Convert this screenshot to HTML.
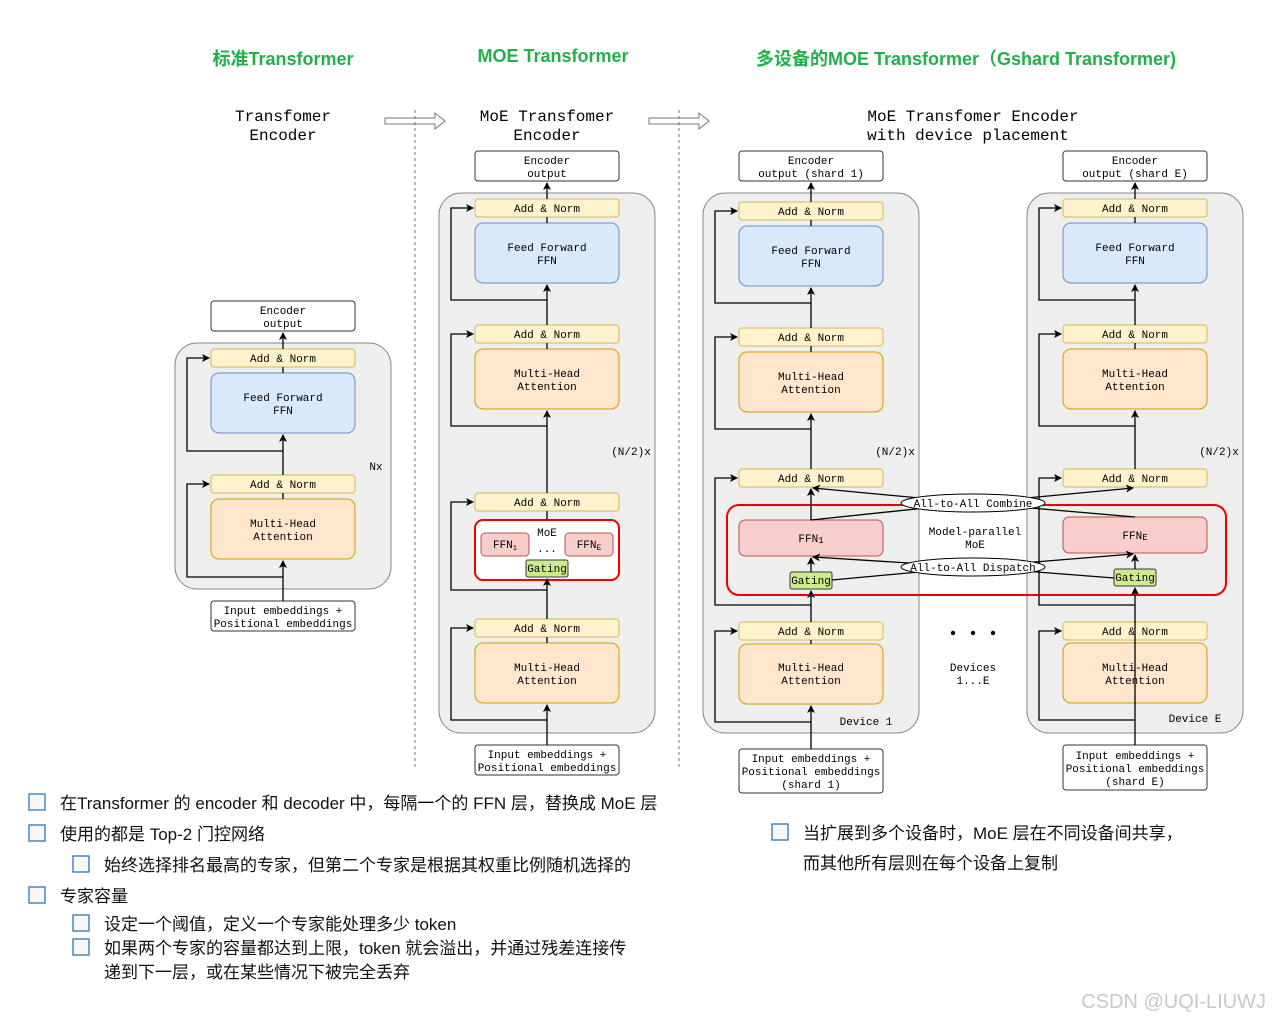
<!DOCTYPE html>
<html><head><meta charset="utf-8"><style>
html,body{margin:0;padding:0;background:#fff;width:1272px;height:1023px;overflow:hidden}
svg{display:block}
.m{font-family:"Liberation Mono","DejaVu Sans Mono",monospace;font-size:11px;fill:#000}
.h{font-family:"Liberation Mono","DejaVu Sans Mono",monospace;font-size:16px;fill:#000}
.t{font-family:"Liberation Sans","Noto Sans CJK SC",sans-serif;font-size:18px;font-weight:bold;fill:#22b04b}
.c{font-family:"Liberation Sans","Noto Sans CJK SC",sans-serif;font-size:17px;fill:#111}
.an{fill:#fff2cc;stroke:#d6b656;stroke-width:1}
.ff{fill:#dae8fc;stroke:#6c8ebf;stroke-width:1}
.mh{fill:#ffe6cc;stroke:#d79b00;stroke-width:1}
.wb{fill:#fff;stroke:#333;stroke-width:1}
.gb{fill:#eeeeee;stroke:#888;stroke-width:1}
.fr{fill:#f8cecc;stroke:#b85450;stroke-width:1}
.ga{fill:#cdeb8b;stroke:#36393d;stroke-width:1}
.ln{stroke:#000;stroke-width:1.3;fill:none}
.cb{fill:#f8f8f8;stroke:#2e75b6;stroke-width:1.3}
</style></head><body>
<svg width="1272" height="1023" viewBox="0 0 1272 1023" xmlns="http://www.w3.org/2000/svg">
<defs><marker id="a" markerWidth="8" markerHeight="8" refX="7" refY="4" orient="auto" markerUnits="userSpaceOnUse"><path d="M0,0 L8,4 L0,8 L2,4 z" fill="#000"/></marker></defs>

<text class="t" x="283" y="65" text-anchor="middle">标准Transformer</text>
<text class="t" x="553" y="62" text-anchor="middle">MOE Transformer</text>
<text class="t" x="966" y="65" text-anchor="middle">多设备的MOE Transformer（Gshard Transformer)</text>

<text class="h" x="283" y="121" text-anchor="middle">Transfomer</text>
<text class="h" x="283" y="140" text-anchor="middle">Encoder</text>
<text class="h" x="547" y="121" text-anchor="middle">MoE Transfomer</text>
<text class="h" x="547" y="140" text-anchor="middle">Encoder</text>
<text class="h" x="973" y="121" text-anchor="middle">MoE Transfomer Encoder</text>
<text class="h" x="968" y="140" text-anchor="middle">with device placement</text>

<!-- hollow arrows -->
<path d="M385,118 L435,118 L435,113 L445,121 L435,129 L435,124 L385,124 z" fill="#fff" stroke="#777"/>
<path d="M649,118 L699,118 L699,113 L709,121 L699,129 L699,124 L649,124 z" fill="#fff" stroke="#777"/>
<line x1="415" y1="110" x2="415" y2="770" stroke="#777" stroke-dasharray="3,3"/>
<line x1="679" y1="110" x2="679" y2="770" stroke="#777" stroke-dasharray="3,3"/>

<!-- Column 1 -->
<rect class="gb" x="175" y="343" width="216" height="246" rx="22"/>
<rect class="wb" x="211" y="301" width="144" height="30" rx="3"/>
<text class="m" x="283" y="314" text-anchor="middle">Encoder</text><text class="m" x="283" y="327" text-anchor="middle">output</text>
<rect class="an" x="211" y="349" width="144" height="18" rx="3"/><text class="m" x="283" y="362" text-anchor="middle">Add &amp; Norm</text>
<rect class="ff" x="211" y="373" width="144" height="60" rx="8"/><text class="m" x="283" y="401" text-anchor="middle">Feed Forward</text><text class="m" x="283" y="414" text-anchor="middle">FFN</text>
<rect class="an" x="211" y="475" width="144" height="18" rx="3"/><text class="m" x="283" y="488" text-anchor="middle">Add &amp; Norm</text>
<rect class="mh" x="211" y="499" width="144" height="60" rx="8"/><text class="m" x="283" y="527" text-anchor="middle">Multi-Head</text><text class="m" x="283" y="540" text-anchor="middle">Attention</text>
<rect class="wb" x="211" y="601" width="144" height="30" rx="3"/>
<text class="m" x="283" y="614" text-anchor="middle">Input embeddings +</text><text class="m" x="283" y="627" text-anchor="middle">Positional embeddings</text>
<line class="ln" x1="283" y1="601" x2="283" y2="561" marker-end="url(#a)"/>
<line class="ln" x1="283" y1="499" x2="283" y2="493"/>
<line class="ln" x1="283" y1="475" x2="283" y2="435" marker-end="url(#a)"/>
<line class="ln" x1="283" y1="373" x2="283" y2="367"/>
<line class="ln" x1="283" y1="349" x2="283" y2="333" marker-end="url(#a)"/>
<path class="ln" d="M283,577 L187,577 L187,484 L209,484" marker-end="url(#a)"/>
<path class="ln" d="M283,451 L187,451 L187,358 L209,358" marker-end="url(#a)"/>
<text class="m" x="376" y="470" text-anchor="middle">Nx</text>

<!-- Column 2 -->
<rect class="gb" x="439" y="193" width="216" height="540" rx="22"/>
<rect class="wb" x="475" y="151" width="144" height="30" rx="3"/>
<text class="m" x="547" y="164" text-anchor="middle">Encoder</text><text class="m" x="547" y="177" text-anchor="middle">output</text>
<rect class="an" x="475" y="199" width="144" height="18" rx="3"/><text class="m" x="547" y="212" text-anchor="middle">Add &amp; Norm</text>
<rect class="ff" x="475" y="223" width="144" height="60" rx="8"/><text class="m" x="547" y="251" text-anchor="middle">Feed Forward</text><text class="m" x="547" y="264" text-anchor="middle">FFN</text>
<rect class="an" x="475" y="325" width="144" height="18" rx="3"/><text class="m" x="547" y="338" text-anchor="middle">Add &amp; Norm</text>
<rect class="mh" x="475" y="349" width="144" height="60" rx="8"/><text class="m" x="547" y="377" text-anchor="middle">Multi-Head</text><text class="m" x="547" y="390" text-anchor="middle">Attention</text>
<rect class="an" x="475" y="493" width="144" height="18" rx="3"/><text class="m" x="547" y="506" text-anchor="middle">Add &amp; Norm</text>
<rect x="475" y="520" width="144" height="60" rx="8" fill="#fff" stroke="#e00" stroke-width="2"/>
<text class="m" x="547" y="536" text-anchor="middle">MoE</text><text class="m" x="547" y="552" text-anchor="middle">...</text>
<rect class="fr" x="481" y="533" width="48" height="23" rx="4"/><text class="m" x="505" y="548" text-anchor="middle">FFN<tspan font-size="7" dy="2">1</tspan></text>
<rect class="fr" x="565" y="533" width="48" height="23" rx="4"/><text class="m" x="589" y="548" text-anchor="middle">FFN<tspan font-size="8" dy="2">E</tspan></text>
<rect class="ga" x="526" y="560" width="42" height="17" rx="2"/><text class="m" x="547" y="572" text-anchor="middle">Gating</text>
<rect class="an" x="475" y="619" width="144" height="18" rx="3"/><text class="m" x="547" y="632" text-anchor="middle">Add &amp; Norm</text>
<rect class="mh" x="475" y="643" width="144" height="60" rx="8"/><text class="m" x="547" y="671" text-anchor="middle">Multi-Head</text><text class="m" x="547" y="684" text-anchor="middle">Attention</text>
<rect class="wb" x="475" y="745" width="144" height="30" rx="3"/>
<text class="m" x="547" y="758" text-anchor="middle">Input embeddings +</text><text class="m" x="547" y="771" text-anchor="middle">Positional embeddings</text>
<line class="ln" x1="547" y1="745" x2="547" y2="705" marker-end="url(#a)"/>
<line class="ln" x1="547" y1="643" x2="547" y2="637"/>
<line class="ln" x1="547" y1="619" x2="547" y2="579" marker-end="url(#a)"/>
<line class="ln" x1="547" y1="520" x2="547" y2="511"/>
<line class="ln" x1="547" y1="493" x2="547" y2="411" marker-end="url(#a)"/>
<line class="ln" x1="547" y1="349" x2="547" y2="343"/>
<line class="ln" x1="547" y1="325" x2="547" y2="285" marker-end="url(#a)"/>
<line class="ln" x1="547" y1="223" x2="547" y2="217"/>
<line class="ln" x1="547" y1="199" x2="547" y2="183" marker-end="url(#a)"/>
<path class="ln" d="M547,720 L451,720 L451,628 L473,628" marker-end="url(#a)"/>
<path class="ln" d="M547,590 L451,590 L451,502 L473,502" marker-end="url(#a)"/>
<path class="ln" d="M547,426 L451,426 L451,334 L473,334" marker-end="url(#a)"/>
<path class="ln" d="M547,300 L451,300 L451,208 L473,208" marker-end="url(#a)"/>
<text class="m" x="631" y="455" text-anchor="middle">(N/2)x</text>

<!-- Device 1 -->
<rect class="gb" x="703" y="193" width="216" height="540" rx="22"/>
<!-- Device E -->
<rect class="gb" x="1027" y="193" width="216" height="540" rx="22"/>
<!-- red MoE box -->
<rect x="727" y="505" width="499" height="90" rx="12" fill="none" stroke="#e00" stroke-width="2"/>

<rect class="wb" x="739" y="151" width="144" height="30" rx="3"/>
<text class="m" x="811" y="164" text-anchor="middle">Encoder</text><text class="m" x="811" y="177" text-anchor="middle">output (shard 1)</text>
<rect class="an" x="739" y="202" width="144" height="18" rx="3"/><text class="m" x="811" y="215" text-anchor="middle">Add &amp; Norm</text>
<rect class="ff" x="739" y="226" width="144" height="60" rx="8"/><text class="m" x="811" y="254" text-anchor="middle">Feed Forward</text><text class="m" x="811" y="267" text-anchor="middle">FFN</text>
<rect class="an" x="739" y="328" width="144" height="18" rx="3"/><text class="m" x="811" y="341" text-anchor="middle">Add &amp; Norm</text>
<rect class="mh" x="739" y="352" width="144" height="60" rx="8"/><text class="m" x="811" y="380" text-anchor="middle">Multi-Head</text><text class="m" x="811" y="393" text-anchor="middle">Attention</text>
<rect class="an" x="739" y="469" width="144" height="18" rx="3"/><text class="m" x="811" y="482" text-anchor="middle">Add &amp; Norm</text>
<rect class="fr" x="739" y="520" width="144" height="36" rx="6"/><text class="m" x="811" y="542" text-anchor="middle">FFN<tspan font-size="9" dy="1">1</tspan></text>
<rect class="ga" x="790" y="572" width="42" height="17" rx="2"/><text class="m" x="811" y="584" text-anchor="middle">Gating</text>
<rect class="an" x="739" y="622" width="144" height="18" rx="3"/><text class="m" x="811" y="635" text-anchor="middle">Add &amp; Norm</text>
<rect class="mh" x="739" y="644" width="144" height="60" rx="8"/><text class="m" x="811" y="671" text-anchor="middle">Multi-Head</text><text class="m" x="811" y="684" text-anchor="middle">Attention</text>
<rect class="wb" x="739" y="749" width="144" height="44" rx="3"/>
<text class="m" x="811" y="762" text-anchor="middle">Input embeddings +</text><text class="m" x="811" y="775" text-anchor="middle">Positional embeddings</text><text class="m" x="811" y="788" text-anchor="middle">(shard 1)</text>
<line class="ln" x1="811" y1="749" x2="811" y2="706" marker-end="url(#a)"/>
<line class="ln" x1="811" y1="644" x2="811" y2="640"/>
<line class="ln" x1="811" y1="622" x2="811" y2="591" marker-end="url(#a)"/>
<line class="ln" x1="811" y1="572" x2="811" y2="558" marker-end="url(#a)"/>
<line class="ln" x1="811" y1="520" x2="811" y2="489" marker-end="url(#a)"/>
<line class="ln" x1="811" y1="469" x2="811" y2="414" marker-end="url(#a)"/>
<line class="ln" x1="811" y1="352" x2="811" y2="346"/>
<line class="ln" x1="811" y1="328" x2="811" y2="288" marker-end="url(#a)"/>
<line class="ln" x1="811" y1="226" x2="811" y2="220"/>
<line class="ln" x1="811" y1="202" x2="811" y2="183" marker-end="url(#a)"/>
<path class="ln" d="M811,722 L715,722 L715,631 L737,631" marker-end="url(#a)"/>
<path class="ln" d="M811,605 L715,605 L715,478 L737,478" marker-end="url(#a)"/>
<path class="ln" d="M811,429 L715,429 L715,337 L737,337" marker-end="url(#a)"/>
<path class="ln" d="M811,303 L715,303 L715,211 L737,211" marker-end="url(#a)"/>
<text class="m" x="866" y="725" text-anchor="middle">Device 1</text>
<text class="m" x="895" y="455" text-anchor="middle">(N/2)x</text>

<rect class="wb" x="1063" y="151" width="144" height="30" rx="3"/>
<text class="m" x="1135" y="164" text-anchor="middle">Encoder</text><text class="m" x="1135" y="177" text-anchor="middle">output (shard E)</text>
<rect class="an" x="1063" y="199" width="144" height="18" rx="3"/><text class="m" x="1135" y="212" text-anchor="middle">Add &amp; Norm</text>
<rect class="ff" x="1063" y="223" width="144" height="60" rx="8"/><text class="m" x="1135" y="251" text-anchor="middle">Feed Forward</text><text class="m" x="1135" y="264" text-anchor="middle">FFN</text>
<rect class="an" x="1063" y="325" width="144" height="18" rx="3"/><text class="m" x="1135" y="338" text-anchor="middle">Add &amp; Norm</text>
<rect class="mh" x="1063" y="349" width="144" height="60" rx="8"/><text class="m" x="1135" y="377" text-anchor="middle">Multi-Head</text><text class="m" x="1135" y="390" text-anchor="middle">Attention</text>
<rect class="an" x="1063" y="469" width="144" height="18" rx="3"/><text class="m" x="1135" y="482" text-anchor="middle">Add &amp; Norm</text>
<rect class="fr" x="1063" y="517" width="144" height="36" rx="6"/><text class="m" x="1135" y="539" text-anchor="middle">FFN<tspan font-size="9" dy="1">E</tspan></text>
<rect class="ga" x="1114" y="569" width="42" height="17" rx="2"/><text class="m" x="1135" y="581" text-anchor="middle">Gating</text>
<rect class="an" x="1063" y="622" width="144" height="18" rx="3"/><text class="m" x="1135" y="635" text-anchor="middle">Add &amp; Norm</text>
<rect class="mh" x="1063" y="643" width="144" height="60" rx="8"/><text class="m" x="1135" y="671" text-anchor="middle">Multi-Head</text><text class="m" x="1135" y="684" text-anchor="middle">Attention</text>
<rect class="wb" x="1063" y="745" width="144" height="45" rx="3"/>
<text class="m" x="1135" y="759" text-anchor="middle">Input embeddings +</text><text class="m" x="1135" y="772" text-anchor="middle">Positional embeddings</text><text class="m" x="1135" y="785" text-anchor="middle">(shard E)</text>
<line class="ln" x1="1135" y1="745" x2="1135" y2="588" marker-end="url(#a)"/>
<line class="ln" x1="1135" y1="569" x2="1135" y2="555" marker-end="url(#a)"/>
<line class="ln" x1="1135" y1="469" x2="1135" y2="411" marker-end="url(#a)"/>
<line class="ln" x1="1135" y1="349" x2="1135" y2="343"/>
<line class="ln" x1="1135" y1="325" x2="1135" y2="285" marker-end="url(#a)"/>
<line class="ln" x1="1135" y1="223" x2="1135" y2="217"/>
<line class="ln" x1="1135" y1="199" x2="1135" y2="183" marker-end="url(#a)"/>
<path class="ln" d="M1135,720 L1039,720 L1039,631 L1061,631" marker-end="url(#a)"/>
<path class="ln" d="M1135,605 L1039,605 L1039,478 L1061,478" marker-end="url(#a)"/>
<path class="ln" d="M1135,426 L1039,426 L1039,334 L1061,334" marker-end="url(#a)"/>
<path class="ln" d="M1135,300 L1039,300 L1039,208 L1061,208" marker-end="url(#a)"/>
<text class="m" x="1195" y="722" text-anchor="middle">Device E</text>
<text class="m" x="1219" y="455" text-anchor="middle">(N/2)x</text>

<!-- all-to-all lines -->
<path class="ln" d="M811,520 L973,503" />
<path class="ln" d="M973,503 L813,488" marker-end="url(#a)"/>
<path class="ln" d="M1135,517 L973,503"/>
<path class="ln" d="M973,503 L1133,488" marker-end="url(#a)"/>
<path class="ln" d="M832,580 L973,567"/>
<path class="ln" d="M973,567 L813,557" marker-end="url(#a)"/>
<path class="ln" d="M1114,578 L973,567"/>
<path class="ln" d="M973,567 L1133,554" marker-end="url(#a)"/>
<ellipse cx="973" cy="503" rx="72" ry="9" fill="#fff" stroke="#000"/>
<text class="m" x="973" y="507" text-anchor="middle">All-to-All Combine</text>
<ellipse cx="973" cy="567" rx="72" ry="9" fill="#fff" stroke="#000"/>
<text class="m" x="973" y="571" text-anchor="middle">All-to-All Dispatch</text>
<text class="m" x="975" y="535" text-anchor="middle">Model-parallel</text>
<text class="m" x="975" y="548" text-anchor="middle">MoE</text>
<circle cx="953" cy="633" r="2.2" fill="#000"/><circle cx="973" cy="633" r="2.2" fill="#000"/><circle cx="993" cy="633" r="2.2" fill="#000"/>
<text class="m" x="973" y="671" text-anchor="middle">Devices</text>
<text class="m" x="973" y="684" text-anchor="middle">1...E</text>

<!-- bottom text -->
<rect class="cb" x="29" y="794" width="16" height="16"/>
<text class="c" x="60" y="809">在Transformer 的 encoder 和 decoder 中，每隔一个的 FFN 层，替换成 MoE 层</text>
<rect class="cb" x="29" y="825" width="16" height="16"/>
<text class="c" x="60" y="840">使用的都是 Top-2 门控网络</text>
<rect class="cb" x="73" y="856" width="16" height="16"/>
<text class="c" x="104" y="871">始终选择排名最高的专家，但第二个专家是根据其权重比例随机选择的</text>
<rect class="cb" x="29" y="887" width="16" height="16"/>
<text class="c" x="60" y="902">专家容量</text>
<rect class="cb" x="73" y="915" width="16" height="16"/>
<text class="c" x="104" y="930">设定一个阈值，定义一个专家能处理多少 token</text>
<rect class="cb" x="73" y="939" width="16" height="16"/>
<text class="c" x="104" y="954">如果两个专家的容量都达到上限，token 就会溢出，并通过残差连接传</text>
<text class="c" x="104" y="978">递到下一层，或在某些情况下被完全丢弃</text>
<rect class="cb" x="772" y="824" width="16" height="16"/>
<text class="c" x="803" y="839">当扩展到多个设备时，MoE 层在不同设备间共享，</text>
<text class="c" x="803" y="869">而其他所有层则在每个设备上复制</text>
<text x="1266" y="1008" text-anchor="end" font-family="Liberation Sans,sans-serif" font-size="20" fill="#c8c8c8">CSDN @UQI-LIUWJ</text>
</svg>
</body></html>
